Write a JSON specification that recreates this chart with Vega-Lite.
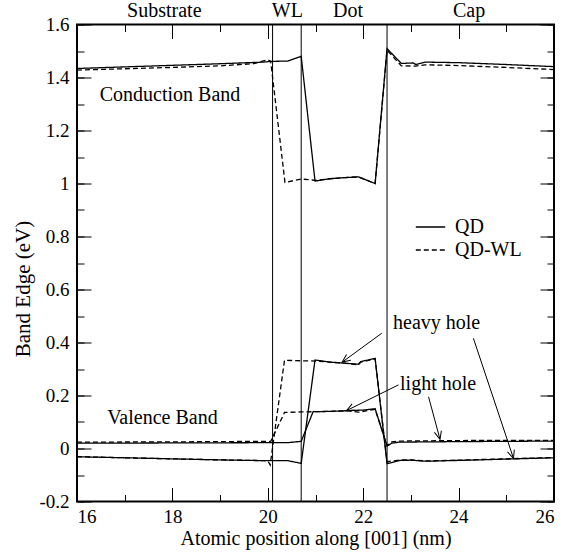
{
  "$schema": "https://vega.github.io/schema/vega-lite/v6.json",
  "width": 477,
  "height": 477,
  "autosize": "none",
  "padding": {"left": 77, "top": 24.5, "right": 12, "bottom": 54.5},
  "config": {
    "view": {"stroke": "black", "strokeWidth": 2},
    "axis": {"domain": false, "grid": false, "tickColor": "black", "tickWidth": 1, "labelColor": "black", "titleColor": "black", "labelFontSize": 19, "titleFontSize": 20, "titleFontWeight": "normal", "labelFont": "Liberation Serif", "titleFont": "Liberation Serif"},
    "legend": {"labelFont": "Liberation Serif"}
  },
  "datasets": {
    "bands": [
      {"x": 16, "e": 1.434, "model": "QD", "band": "CB"},
      {"x": 17, "e": 1.440, "model": "QD", "band": "CB"},
      {"x": 18, "e": 1.446, "model": "QD", "band": "CB"},
      {"x": 19, "e": 1.452, "model": "QD", "band": "CB"},
      {"x": 19.9, "e": 1.458, "model": "QD", "band": "CB"},
      {"x": 20.1, "e": 1.461, "model": "QD", "band": "CB"},
      {"x": 20.42, "e": 1.462, "model": "QD", "band": "CB"},
      {"x": 20.7, "e": 1.48, "model": "QD", "band": "CB"},
      {"x": 20.99, "e": 1.009, "model": "QD", "band": "CB"},
      {"x": 21.3, "e": 1.018, "model": "QD", "band": "CB"},
      {"x": 21.6, "e": 1.022, "model": "QD", "band": "CB"},
      {"x": 21.9, "e": 1.025, "model": "QD", "band": "CB"},
      {"x": 22.25, "e": 1.0, "model": "QD", "band": "CB"},
      {"x": 22.5, "e": 1.509, "model": "QD", "band": "CB"},
      {"x": 22.8, "e": 1.453, "model": "QD", "band": "CB"},
      {"x": 23.05, "e": 1.455, "model": "QD", "band": "CB"},
      {"x": 23.1, "e": 1.449, "model": "QD", "band": "CB"},
      {"x": 23.3, "e": 1.458, "model": "QD", "band": "CB"},
      {"x": 24, "e": 1.456, "model": "QD", "band": "CB"},
      {"x": 25, "e": 1.449, "model": "QD", "band": "CB"},
      {"x": 26, "e": 1.441, "model": "QD", "band": "CB"},

      {"x": 16, "e": 1.428, "model": "QD-WL", "band": "CB"},
      {"x": 17, "e": 1.433, "model": "QD-WL", "band": "CB"},
      {"x": 18, "e": 1.438, "model": "QD-WL", "band": "CB"},
      {"x": 19, "e": 1.444, "model": "QD-WL", "band": "CB"},
      {"x": 19.7, "e": 1.452, "model": "QD-WL", "band": "CB"},
      {"x": 20.0, "e": 1.467, "model": "QD-WL", "band": "CB"},
      {"x": 20.06, "e": 1.462, "model": "QD-WL", "band": "CB"},
      {"x": 20.36, "e": 1.004, "model": "QD-WL", "band": "CB"},
      {"x": 20.7, "e": 1.017, "model": "QD-WL", "band": "CB"},
      {"x": 20.99, "e": 1.012, "model": "QD-WL", "band": "CB"},
      {"x": 21.3, "e": 1.018, "model": "QD-WL", "band": "CB"},
      {"x": 21.6, "e": 1.022, "model": "QD-WL", "band": "CB"},
      {"x": 21.9, "e": 1.025, "model": "QD-WL", "band": "CB"},
      {"x": 22.25, "e": 1.0, "model": "QD-WL", "band": "CB"},
      {"x": 22.5, "e": 1.503, "model": "QD-WL", "band": "CB"},
      {"x": 22.8, "e": 1.444, "model": "QD-WL", "band": "CB"},
      {"x": 23.1, "e": 1.443, "model": "QD-WL", "band": "CB"},
      {"x": 23.3, "e": 1.448, "model": "QD-WL", "band": "CB"},
      {"x": 24, "e": 1.445, "model": "QD-WL", "band": "CB"},
      {"x": 25, "e": 1.438, "model": "QD-WL", "band": "CB"},
      {"x": 26, "e": 1.43, "model": "QD-WL", "band": "CB"},

      {"x": 16, "e": -0.031, "model": "QD", "band": "HH"},
      {"x": 17, "e": -0.035, "model": "QD", "band": "HH"},
      {"x": 18, "e": -0.039, "model": "QD", "band": "HH"},
      {"x": 19, "e": -0.043, "model": "QD", "band": "HH"},
      {"x": 20, "e": -0.046, "model": "QD", "band": "HH"},
      {"x": 20.42, "e": -0.046, "model": "QD", "band": "HH"},
      {"x": 20.7, "e": -0.056, "model": "QD", "band": "HH"},
      {"x": 20.99, "e": 0.334, "model": "QD", "band": "HH"},
      {"x": 21.3, "e": 0.326, "model": "QD", "band": "HH"},
      {"x": 21.6, "e": 0.322, "model": "QD", "band": "HH"},
      {"x": 21.9, "e": 0.318, "model": "QD", "band": "HH"},
      {"x": 21.95, "e": 0.328, "model": "QD", "band": "HH"},
      {"x": 22.25, "e": 0.34, "model": "QD", "band": "HH"},
      {"x": 22.5, "e": -0.057, "model": "QD", "band": "HH"},
      {"x": 22.77, "e": -0.045, "model": "QD", "band": "HH"},
      {"x": 23, "e": -0.044, "model": "QD", "band": "HH"},
      {"x": 23.3, "e": -0.048, "model": "QD", "band": "HH"},
      {"x": 24, "e": -0.045, "model": "QD", "band": "HH"},
      {"x": 25, "e": -0.04, "model": "QD", "band": "HH"},
      {"x": 26, "e": -0.035, "model": "QD", "band": "HH"},

      {"x": 16, "e": -0.031, "model": "QD-WL", "band": "HH"},
      {"x": 17, "e": -0.035, "model": "QD-WL", "band": "HH"},
      {"x": 18, "e": -0.039, "model": "QD-WL", "band": "HH"},
      {"x": 19, "e": -0.043, "model": "QD-WL", "band": "HH"},
      {"x": 20, "e": -0.046, "model": "QD-WL", "band": "HH"},
      {"x": 20.05, "e": -0.062, "model": "QD-WL", "band": "HH"},
      {"x": 20.35, "e": 0.333, "model": "QD-WL", "band": "HH"},
      {"x": 20.7, "e": 0.331, "model": "QD-WL", "band": "HH"},
      {"x": 21.0, "e": 0.33, "model": "QD-WL", "band": "HH"},
      {"x": 21.3, "e": 0.326, "model": "QD-WL", "band": "HH"},
      {"x": 21.6, "e": 0.322, "model": "QD-WL", "band": "HH"},
      {"x": 21.9, "e": 0.316, "model": "QD-WL", "band": "HH"},
      {"x": 21.95, "e": 0.326, "model": "QD-WL", "band": "HH"},
      {"x": 22.25, "e": 0.338, "model": "QD-WL", "band": "HH"},
      {"x": 22.5, "e": -0.05, "model": "QD-WL", "band": "HH"},
      {"x": 22.77, "e": -0.043, "model": "QD-WL", "band": "HH"},
      {"x": 23, "e": -0.043, "model": "QD-WL", "band": "HH"},
      {"x": 23.3, "e": -0.047, "model": "QD-WL", "band": "HH"},
      {"x": 24, "e": -0.044, "model": "QD-WL", "band": "HH"},
      {"x": 25, "e": -0.039, "model": "QD-WL", "band": "HH"},
      {"x": 26, "e": -0.034, "model": "QD-WL", "band": "HH"},

      {"x": 16, "e": 0.02, "model": "QD", "band": "LH"},
      {"x": 18, "e": 0.021, "model": "QD", "band": "LH"},
      {"x": 20, "e": 0.022, "model": "QD", "band": "LH"},
      {"x": 20.42, "e": 0.022, "model": "QD", "band": "LH"},
      {"x": 20.7, "e": 0.027, "model": "QD", "band": "LH"},
      {"x": 20.95, "e": 0.139, "model": "QD", "band": "LH"},
      {"x": 21.3, "e": 0.14, "model": "QD", "band": "LH"},
      {"x": 21.7, "e": 0.143, "model": "QD", "band": "LH"},
      {"x": 22.0, "e": 0.145, "model": "QD", "band": "LH"},
      {"x": 22.25, "e": 0.15, "model": "QD", "band": "LH"},
      {"x": 22.5, "e": 0.009, "model": "QD", "band": "LH"},
      {"x": 22.6, "e": 0.02, "model": "QD", "band": "LH"},
      {"x": 22.75, "e": 0.024, "model": "QD", "band": "LH"},
      {"x": 24, "e": 0.026, "model": "QD", "band": "LH"},
      {"x": 26, "e": 0.028, "model": "QD", "band": "LH"},

      {"x": 16, "e": 0.024, "model": "QD-WL", "band": "LH"},
      {"x": 18, "e": 0.025, "model": "QD-WL", "band": "LH"},
      {"x": 20, "e": 0.027, "model": "QD-WL", "band": "LH"},
      {"x": 20.06, "e": 0.026, "model": "QD-WL", "band": "LH"},
      {"x": 20.35, "e": 0.136, "model": "QD-WL", "band": "LH"},
      {"x": 20.7, "e": 0.138, "model": "QD-WL", "band": "LH"},
      {"x": 21.0, "e": 0.139, "model": "QD-WL", "band": "LH"},
      {"x": 21.3, "e": 0.14, "model": "QD-WL", "band": "LH"},
      {"x": 21.7, "e": 0.142, "model": "QD-WL", "band": "LH"},
      {"x": 21.9, "e": 0.137, "model": "QD-WL", "band": "LH"},
      {"x": 22.25, "e": 0.148, "model": "QD-WL", "band": "LH"},
      {"x": 22.5, "e": 0.012, "model": "QD-WL", "band": "LH"},
      {"x": 22.6, "e": 0.025, "model": "QD-WL", "band": "LH"},
      {"x": 22.75, "e": 0.028, "model": "QD-WL", "band": "LH"},
      {"x": 24, "e": 0.03, "model": "QD-WL", "band": "LH"},
      {"x": 26, "e": 0.031, "model": "QD-WL", "band": "LH"}
    ],
    "interfaces": [{"x": 20.1}, {"x": 20.7}, {"x": 22.5}],
    "labels": [
      {"x": 17.83, "y": 1.63, "text": "Substrate"},
      {"x": 20.41, "y": 1.63, "text": "WL"},
      {"x": 21.68, "y": 1.63, "text": "Dot"},
      {"x": 24.22, "y": 1.63, "text": "Cap"},
      {"x": 17.95, "y": 1.312, "text": "Conduction Band"},
      {"x": 17.79, "y": 0.0925, "text": "Valence Band"},
      {"x": 23.54, "y": 0.45, "text": "heavy hole"},
      {"x": 23.57, "y": 0.221, "text": "light hole"}
    ],
    "arrows": [
      {"x1": 22.39, "y1": 0.435, "x2": 21.56, "y2": 0.326},
      {"x1": 24.31, "y1": 0.416, "x2": 25.15, "y2": -0.037},
      {"x1": 22.74, "y1": 0.24, "x2": 21.65, "y2": 0.143},
      {"x1": 23.37, "y1": 0.195, "x2": 23.61, "y2": 0.035}
    ]
  },
  "resolve": {"axis": {"x": "independent", "y": "independent"}},
  "layer": [
    {
      "data": {"name": "interfaces"},
      "mark": {"type": "rule", "color": "black", "strokeWidth": 1},
      "encoding": {
        "x": {"field": "x", "type": "quantitative", "scale": {"domain": [16, 26], "nice": false, "zero": false}, "axis": null}
      }
    },
    {
      "data": {"name": "bands"},
      "mark": {"type": "line", "color": "black", "strokeWidth": 1.3},
      "encoding": {
        "x": {"field": "x", "type": "quantitative", "scale": {"domain": [16, 26], "nice": false, "zero": false},
          "axis": {"orient": "bottom", "values": [16, 18, 20, 22, 24, 26], "tickSize": -14, "labelPadding": 20, "labelFont": "Liberation Serif", "titleFont": "Liberation Serif", "title": "Atomic position along [001] (nm)", "titleBaseline": "alphabetic", "titleY": 42.5}},
        "y": {"field": "e", "type": "quantitative", "scale": {"domain": [-0.2, 1.6], "nice": false, "zero": false},
          "axis": {"orient": "left", "values": [-0.2, 0, 0.2, 0.4, 0.6, 0.8, 1, 1.2, 1.4, 1.6], "tickSize": -14, "labelPadding": 22, "labelFont": "Liberation Serif", "titleFont": "Liberation Serif", "labelExpr": "'' + datum.value", "title": "Band Edge (eV)", "titleFontSize": 21, "titleBaseline": "alphabetic", "titleX": -48, "titleY": 264}},
        "strokeDash": {"field": "model", "type": "nominal", "scale": {"domain": ["QD", "QD-WL"], "range": [[1, 0], [5, 3]]},
          "legend": {"orient": "none", "legendX": 342, "legendY": 191, "title": null, "symbolType": "M-1.4,0H1.4", "symbolSize": 441, "symbolStrokeColor": "black", "symbolStrokeWidth": 1.3, "labelFont": "Liberation Serif", "labelFontSize": 20, "labelColor": "black", "labelOffset": 13, "rowPadding": 1, "padding": 0}},
        "detail": {"field": "band"}
      }
    },
    {
      "data": {"name": "labels"},
      "mark": {"type": "text", "font": "Liberation Serif", "fontSize": 20, "baseline": "alphabetic", "align": "center", "color": "black"},
      "encoding": {
        "x": {"field": "x", "type": "quantitative", "scale": {"domain": [16, 26], "nice": false, "zero": false},
          "axis": {"orient": "bottom", "values": [16, 17, 18, 19, 20, 21, 22, 23, 24, 25, 26], "tickSize": -7, "labels": false, "title": null}},
        "y": {"field": "y", "type": "quantitative", "scale": {"domain": [-0.2, 1.6], "nice": false, "zero": false},
          "axis": {"orient": "left", "values": [-0.2, -0.1, 0, 0.1, 0.2, 0.3, 0.4, 0.5, 0.6, 0.7, 0.8, 0.9, 1, 1.1, 1.2, 1.3, 1.4, 1.5, 1.6], "tickSize": -7, "labels": false, "title": null}},
        "text": {"field": "text"}
      }
    },
    {
      "data": {"name": "arrows"},
      "mark": {"type": "rule", "color": "black", "strokeWidth": 1},
      "encoding": {
        "x": {"field": "x1", "type": "quantitative", "scale": {"domain": [16, 26], "nice": false, "zero": false},
          "axis": {"orient": "top", "values": [16, 18, 20, 22, 24, 26], "tickSize": -14, "labels": false, "title": null}},
        "y": {"field": "y1", "type": "quantitative", "scale": {"domain": [-0.2, 1.6], "nice": false, "zero": false},
          "axis": {"orient": "right", "values": [-0.2, 0, 0.2, 0.4, 0.6, 0.8, 1, 1.2, 1.4, 1.6], "tickSize": -14, "labels": false, "title": null}},
        "x2": {"field": "x2"},
        "y2": {"field": "y2"}
      }
    },
    {
      "data": {"name": "arrows"},
      "transform": [
        {"calculate": "atan2(-(datum.y2 - datum.y1) * 265, (datum.x2 - datum.x1) * 47.7) * 180 / PI", "as": "ang"}
      ],
      "mark": {"type": "point", "shape": "M-1,-0.45L0,0L-1,0.45", "filled": false, "stroke": "black", "strokeWidth": 1, "size": 256, "opacity": 1},
      "encoding": {
        "x": {"field": "x2", "type": "quantitative", "scale": {"domain": [16, 26], "nice": false, "zero": false},
          "axis": {"orient": "top", "values": [16, 17, 18, 19, 20, 21, 22, 23, 24, 25, 26], "tickSize": -7, "labels": false, "title": null}},
        "y": {"field": "y2", "type": "quantitative", "scale": {"domain": [-0.2, 1.6], "nice": false, "zero": false},
          "axis": {"orient": "right", "values": [-0.2, -0.1, 0, 0.1, 0.2, 0.3, 0.4, 0.5, 0.6, 0.7, 0.8, 0.9, 1, 1.1, 1.2, 1.3, 1.4, 1.5, 1.6], "tickSize": -7, "labels": false, "title": null}},
        "angle": {"field": "ang", "type": "quantitative", "scale": null}
      }
    }
  ]
}
